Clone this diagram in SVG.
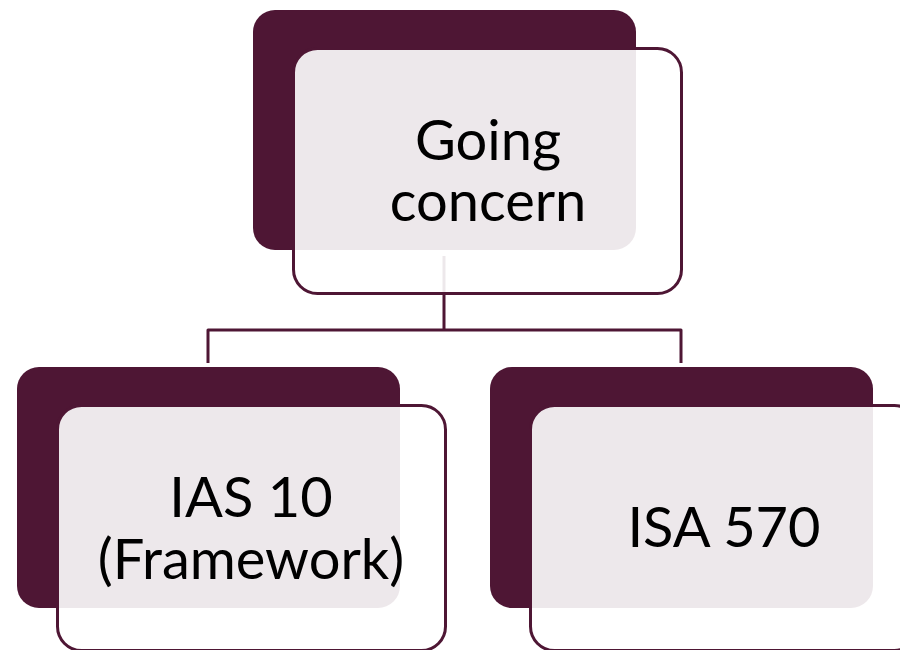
<svg xmlns="http://www.w3.org/2000/svg" width="900" height="650" viewBox="0 0 900 650">
<style>
.back{fill:#4e1634;}
.front{fill:#ffffff;fill-opacity:0.9;stroke:#4e1634;stroke-width:3;}
.lbl{font-family:Lato,"Open Sans","Liberation Sans",sans-serif;font-size:56px;fill:#000;text-anchor:middle;}
.conn{fill:none;stroke:#4e1634;stroke-width:3;stroke-linejoin:round;}
</style>
<rect width="900" height="650" fill="#ffffff"/>
<g id="n1-back"><rect class="back" x="253" y="10" width="383" height="240" rx="22"/></g>
<g id="connectors">
<path class="conn" d="M444 256 V330 M208 363 V330 H681 V363"/>
</g>
<g id="n1">
<rect class="front" x="293.5" y="48.5" width="388" height="245" rx="24"/>
<text class="lbl" x="488" y="160">Going</text>
<text class="lbl" x="488" y="221">concern</text>
</g>
<g id="n2">
<rect class="back" x="17" y="367" width="383" height="241" rx="22"/>
<rect class="front" x="57.5" y="405.5" width="388" height="245" rx="24"/>
<text class="lbl" x="251" y="517">IAS 10</text>
<text class="lbl" x="251" y="579">(Framework)</text>
</g>
<g id="n3">
<rect class="back" x="490" y="367" width="383" height="241" rx="22"/>
<rect class="front" x="530.5" y="405.5" width="388" height="245" rx="24"/>
<text class="lbl" x="724" y="547">ISA 570</text>
</g>
</svg>
